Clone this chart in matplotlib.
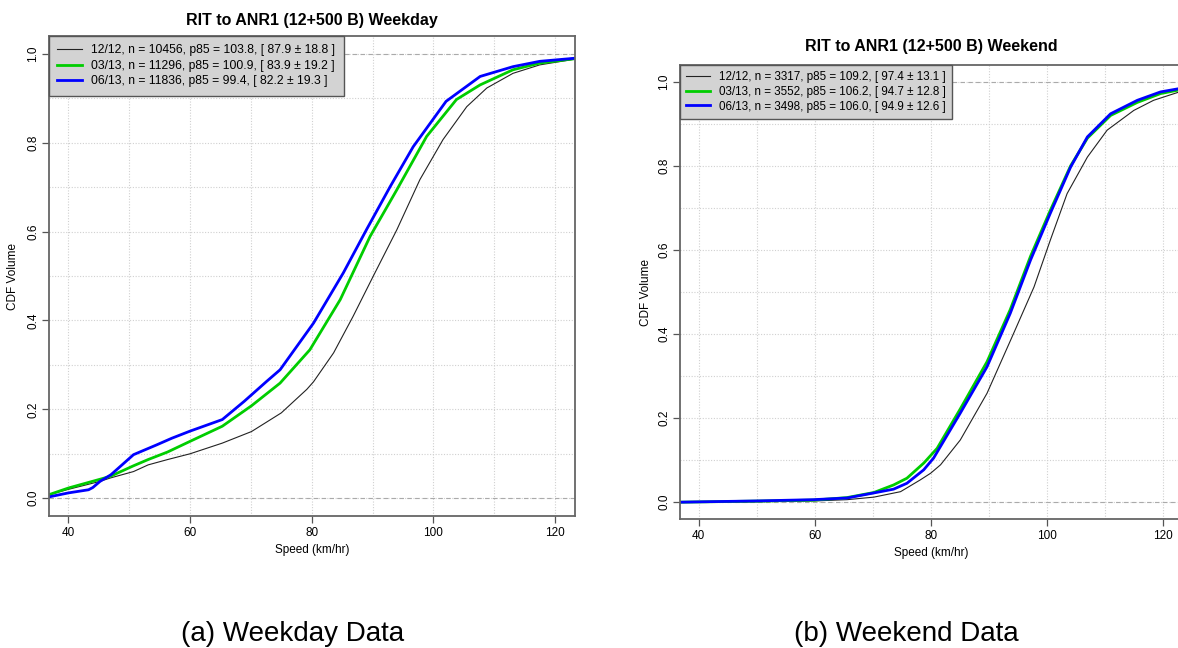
import matplotlib
matplotlib.use('Agg')
import matplotlib.pyplot as plt
from matplotlib.ticker import MultipleLocator

plt.rcParams['font.family'] = ['Liberation Sans', 'DejaVu Sans']

# weekday CDFs
wd_black_x = [36.8, 40.0, 45.2, 47.0, 50.7, 53.1, 56.3, 60.0, 65.3, 70.1, 75.0, 79.2, 80.3, 83.6, 86.8,
              90.1, 94.0, 97.8, 101.6, 105.5, 108.8, 113.1, 117.5, 123.3]
wd_black_y = [0.008, 0.020, 0.038, 0.046, 0.060, 0.075, 0.087, 0.100, 0.124, 0.150, 0.192, 0.245, 0.262, 0.327,
              0.409, 0.499, 0.604, 0.717, 0.807, 0.881, 0.923, 0.956, 0.975, 0.988]
wd_green_x = [36.8, 40.0, 45.8, 47.0, 50.7, 53.1, 56.3, 60.0, 65.3, 70.1, 74.8, 79.7, 84.7, 89.6, 94.0,
              98.9, 103.8, 107.7, 113.1, 117.5, 123.3]
wd_green_y = [0.008, 0.023, 0.045, 0.050, 0.073, 0.087, 0.104, 0.128, 0.162, 0.208, 0.259, 0.334, 0.447, 0.589,
              0.694, 0.814, 0.897, 0.930, 0.964, 0.979, 0.989]
wd_blue_x = [36.8, 40.0, 43.3, 44.0, 45.2, 47.0, 50.7, 54.5, 57.0, 60.0, 65.3, 68.9, 72.6, 74.8, 80.3,
             85.2, 89.0, 92.9, 96.7, 102.1, 107.7, 113.1, 117.5, 123.3]
wd_blue_y = [0.003, 0.012, 0.019, 0.024, 0.038, 0.053, 0.098, 0.120, 0.135, 0.151, 0.177, 0.218, 0.263, 0.289,
             0.394, 0.507, 0.604, 0.701, 0.791, 0.893, 0.949, 0.971, 0.983, 0.990]

# weekend CDFs
we_black_x = [36.9, 50.0, 60.0, 65.6, 70.2, 74.8, 78.2, 80.0, 81.7, 85.1, 89.7, 94.3, 97.8, 100.6,
              103.5, 107.0, 110.4, 115.0, 118.4, 123.3]
we_black_y = [0.0, 0.001, 0.003, 0.006, 0.012, 0.025, 0.053, 0.069, 0.089, 0.148, 0.259, 0.402, 0.512, 0.623,
              0.734, 0.821, 0.885, 0.932, 0.956, 0.978]
we_green_x = [36.9, 42.0, 52.0, 60.0, 65.6, 70.2, 73.6, 75.9, 78.8, 81.1, 85.1, 89.7, 93.7, 97.2, 100.6,
              104.1, 107.0, 111.0, 115.6, 119.6, 123.3]
we_green_y = [0.0, 0.001, 0.003, 0.005, 0.011, 0.023, 0.041, 0.057, 0.093, 0.128, 0.222, 0.334, 0.458, 0.585,
              0.694, 0.800, 0.866, 0.920, 0.951, 0.972, 0.982]
we_blue_x = [36.9, 41.0, 50.1, 59.8, 65.6, 70.2, 73.6, 75.9, 78.8, 80.5, 85.1, 89.7, 93.7, 97.2, 100.6,
             104.1, 107.0, 111.0, 115.6, 119.6, 123.3]
we_blue_y = [0.0, 0.001, 0.003, 0.006, 0.010, 0.022, 0.031, 0.045, 0.077, 0.105, 0.212, 0.322, 0.449, 0.576,
             0.687, 0.797, 0.869, 0.924, 0.956, 0.976, 0.985]

wd_labels = ['12/12, n = 10456, p85 = 103.8, [ 87.9 \u00b1 18.8 ]',
             '03/13, n = 11296, p85 = 100.9, [ 83.9 \u00b1 19.2 ]',
             '06/13, n = 11836, p85 = 99.4, [ 82.2 \u00b1 19.3 ]']
we_labels = ['12/12, n = 3317, p85 = 109.2, [ 97.4 \u00b1 13.1 ]',
             '03/13, n = 3552, p85 = 106.2, [ 94.7 \u00b1 12.8 ]',
             '06/13, n = 3498, p85 = 106.0, [ 94.9 \u00b1 12.6 ]']

W, H = 1178, 648
fig = plt.figure(figsize=(W / 100, H / 100), dpi=100)


def px(x0, y0, x1, y1):
    return [x0 / W, 1 - y1 / H, (x1 - x0) / W, (y1 - y0) / H]


def panel(rect, title, title_y, series, labels, caption, cap_x, leg_fs, leg_sp, leg_pad, ylab_x, xlab_y):
    ax = fig.add_axes(rect)
    ax.set_xlim(36.8, 123.3)
    ax.set_ylim(-0.04, 1.04)
    ax.xaxis.set_major_locator(MultipleLocator(20))
    ax.xaxis.set_minor_locator(MultipleLocator(10))
    ax.yaxis.set_major_locator(MultipleLocator(0.2))
    ax.yaxis.set_minor_locator(MultipleLocator(0.1))
    ax.grid(which='both', color='#d0d0d0', linestyle=(0, (1, 1.5)), linewidth=0.8)
    ax.tick_params(which='minor', length=0)
    ax.tick_params(which='major', direction='out', length=5, width=0.9, color='#555555',
                   labelsize=8.5, pad=3)
    ax.tick_params(axis='y', pad=2)
    ax.yaxis.set_major_formatter(plt.FuncFormatter(lambda v, p: '%.1f' % v))
    plt.setp(ax.get_yticklabels(), rotation=90, va='center')
    ax.axhline(0, color='#aaaaaa', linestyle=(0, (4, 3)), linewidth=0.8)
    ax.axhline(1, color='#aaaaaa', linestyle=(0, (4, 3)), linewidth=0.8)
    for s in ax.spines.values():
        s.set_color('#666666')
        s.set_linewidth(1.3)
    colors = ['#222222', '#00cd00', '#0000ff']
    widths = [0.8, 2.0, 2.0]
    for (x, y), c, lw, lab in zip(series, colors, widths, labels):
        ax.plot(x, y, color=c, linewidth=lw, label=lab)
    leg = ax.legend(loc='upper left', bbox_to_anchor=(0, 1), borderaxespad=0, fontsize=leg_fs,
                    fancybox=False, facecolor='#d3d3d3', edgecolor='#555555', framealpha=1,
                    handlelength=2.0, handletextpad=0.8, labelspacing=leg_sp, borderpad=leg_pad)
    leg.get_frame().set_linewidth(1.0)
    ax.set_xlabel('Speed (km/hr)', fontsize=8.5)
    ax.set_ylabel('CDF Volume', fontsize=8.5)
    ax.xaxis.set_label_coords(0.5, xlab_y)
    ax.yaxis.set_label_coords(ylab_x, 0.5)
    fig.text(rect[0] + rect[2] / 2, 1 - title_y / H, title, ha='center', va='center',
             fontsize=11.5, fontweight='bold')
    fig.text(cap_x / W, 1 - 634 / H, caption, ha='center', va='center', fontsize=20)
    return ax


panel(px(49, 36, 575, 516), 'RIT to ANR1 (12+500 B) Weekday', 21,
      [(wd_black_x, wd_black_y), (wd_green_x, wd_green_y), (wd_blue_x, wd_blue_y)],
      wd_labels, '(a) Weekday Data', 293, 8.7, 0.28, 0.7, -0.057, -0.058)
panel(px(680, 65, 1182, 519), 'RIT to ANR1 (12+500 B) Weekend', 46.5,
      [(we_black_x, we_black_y), (we_green_x, we_green_y), (we_blue_x, we_blue_y)],
      we_labels, '(b) Weekend Data', 906, 8.4, 0.22, 0.55, -0.056, -0.061)

fig.savefig('out.png', dpi=100)
